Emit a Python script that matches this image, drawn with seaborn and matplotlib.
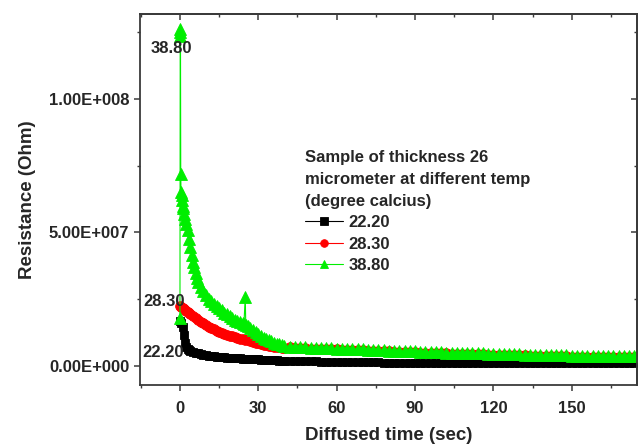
import numpy as np
import pandas as pd
import matplotlib
matplotlib.use('Agg')
import matplotlib.pyplot as plt
import seaborn as sns
from matplotlib.ticker import MultipleLocator, FuncFormatter

sns.set_style('ticks')
plt.rcParams['font.family'] = ['Liberation Sans', 'DejaVu Sans']
plt.rcParams['font.weight'] = 'bold'

# ---------------- data ----------------
series_labels = ['22.20', '28.30', '38.80']
series_colors = ['#000000', '#ff0000', '#00ee00']
series_markers = ['s', 'o', '^']

# shared tail times (sec)
time_tail = [42, 44, 46, 48, 50, 52, 54, 56, 58, 60,
             62, 64, 66, 68, 70, 72, 74, 76, 78, 80,
             82, 84, 86, 88, 90, 92, 94, 96, 98, 100,
             102, 104, 106, 108, 110, 112, 114, 116, 118, 120,
             122, 124, 126, 128, 130, 132, 134, 136, 138, 140,
             142, 144, 146, 148, 150, 152, 154, 156, 158, 160,
             162, 164, 166, 168, 170, 172, 174]

# head times for 22.20 and 28.30
time_head = [0, 0.5, 1, 1.5, 2, 2.5, 3, 3.5,
             4, 5, 6, 7, 8, 9, 10, 11, 12, 13, 14, 15, 16, 17, 18, 19, 20,
             21, 22, 23, 24, 25, 26, 27, 28, 29, 30, 31, 32, 33, 34, 35,
             36, 37, 38, 39, 40]

# resistance in units of 1e7 Ohm
r_2220_head = [1.70, 1.62, 1.45, 1.15, 0.88, 0.72, 0.64, 0.60,
               0.57, 0.53, 0.50, 0.48, 0.45, 0.43, 0.41, 0.39, 0.375, 0.36, 0.35, 0.34,
               0.33, 0.32, 0.31, 0.305, 0.30, 0.295, 0.29, 0.285, 0.28, 0.27,
               0.265, 0.26, 0.255, 0.25, 0.245, 0.24, 0.235, 0.23, 0.225, 0.22,
               0.215, 0.21, 0.205, 0.20, 0.198]
r_2220_tail = [0.195, 0.19, 0.185, 0.18, 0.175, 0.17, 0.165, 0.16, 0.155, 0.15,
               0.148, 0.146, 0.144, 0.142, 0.14, 0.138, 0.136, 0.134, 0.132, 0.13,
               0.128, 0.126, 0.125, 0.124, 0.123, 0.122, 0.121, 0.12, 0.12, 0.12,
               0.12, 0.119, 0.118, 0.117, 0.116, 0.115, 0.115, 0.114, 0.114, 0.113,
               0.113, 0.112, 0.112, 0.111, 0.111, 0.11, 0.11, 0.11, 0.11, 0.11,
               0.11, 0.108, 0.108, 0.106, 0.106, 0.105, 0.105, 0.104, 0.104, 0.103,
               0.103, 0.102, 0.102, 0.10, 0.10, 0.10, 0.10]

r_2830_head = [2.25, 2.22, 2.18, 2.14, 2.10, 2.06, 2.02, 1.98,
               1.95, 1.88, 1.80, 1.73, 1.66, 1.60, 1.54, 1.48, 1.42, 1.37, 1.33, 1.29,
               1.25, 1.21, 1.17, 1.14, 1.11, 1.08, 1.05, 1.03, 1.01, 0.99,
               0.97, 0.94, 0.91, 0.88, 0.85, 0.82, 0.80, 0.78, 0.76, 0.74,
               0.72, 0.71, 0.70, 0.69, 0.68]
r_2830_tail = [0.695, 0.685, 0.675, 0.665, 0.655, 0.645, 0.64, 0.635, 0.625, 0.62,
               0.615, 0.605, 0.60, 0.595, 0.585, 0.58, 0.575, 0.565, 0.555, 0.545,
               0.535, 0.53, 0.525, 0.515, 0.51, 0.505, 0.495, 0.49, 0.485, 0.475,
               0.47, 0.465, 0.46, 0.455, 0.45, 0.445, 0.44, 0.435, 0.43, 0.425,
               0.42, 0.415, 0.41, 0.405, 0.40, 0.395, 0.39, 0.385, 0.38, 0.375,
               0.37, 0.365, 0.365, 0.36, 0.355, 0.355, 0.35, 0.35, 0.345, 0.345,
               0.345, 0.34, 0.34, 0.335, 0.335, 0.335, 0.335]

time_3880_head = [0, 0.1, 0.15, 0.2, 0.3, 0.4, 0.6, 0.8, 1, 1.3, 1.6, 2, 2.5, 3,
                  3.5, 4, 4.5, 5, 5.5, 6, 6.5, 7, 8, 9, 10, 11, 12, 13, 14, 15,
                  16, 17, 18, 19, 20, 21, 22, 23, 24, 24.5, 25, 25.2, 26, 27, 28,
                  29, 30, 31, 32, 33, 34, 35, 36, 37, 38, 39, 40]
r_3880_head = [1.8, 12.6, 12.35, 12.5, 7.2, 6.5, 6.2, 6.4, 6.0, 5.9, 5.7, 5.5, 5.3, 5.1,
               4.75, 4.45, 4.15, 3.9, 3.7, 3.5, 3.3, 3.15, 2.95, 2.8, 2.65, 2.52, 2.42, 2.33, 2.24, 2.16,
               2.08, 2.0, 1.93, 1.86, 1.8, 1.74, 1.69, 1.65, 1.61, 1.58, 2.6, 1.55, 1.5, 1.44, 1.36,
               1.28, 1.2, 1.12, 1.06, 1.0, 0.96, 0.92, 0.88, 0.84, 0.81, 0.78, 0.75]
r_3880_tail = [0.73, 0.72, 0.71, 0.70, 0.69, 0.68, 0.675, 0.67, 0.66, 0.655,
               0.65, 0.64, 0.635, 0.63, 0.62, 0.615, 0.61, 0.60, 0.59, 0.58,
               0.57, 0.565, 0.56, 0.55, 0.545, 0.54, 0.53, 0.525, 0.52, 0.51,
               0.505, 0.50, 0.495, 0.49, 0.485, 0.48, 0.475, 0.47, 0.465, 0.46,
               0.455, 0.45, 0.445, 0.44, 0.435, 0.43, 0.425, 0.42, 0.415, 0.41,
               0.405, 0.40, 0.40, 0.395, 0.39, 0.39, 0.385, 0.385, 0.38, 0.38,
               0.38, 0.375, 0.375, 0.37, 0.37, 0.37, 0.37]

unit = 1e7
frames = []
for lab, t, r in [
    ('22.20', time_head + time_tail, r_2220_head + r_2220_tail),
    ('28.30', time_head + time_tail, r_2830_head + r_2830_tail),
    ('38.80', time_3880_head + time_tail, r_3880_head + r_3880_tail),
]:
    frames.append(pd.DataFrame({'time': t, 'resistance': np.array(r) * unit, 'series': lab}))
df = pd.concat(frames, ignore_index=True)

# ---------------- figure ----------------
fig = plt.figure(figsize=(6.42, 4.47), dpi=100)
ax = fig.add_axes([140 / 642, 62 / 447, 497 / 642, 371 / 447])

marker_sizes = {'s': 6.0, 'o': 7.0, '^': 8.0}
for lab, col, mk in zip(series_labels, series_colors, series_markers):
    sub = df[df['series'] == lab]
    sns.lineplot(data=sub, x='time', y='resistance', ax=ax, sort=False, estimator=None,
                 color=col, marker=mk, markersize=marker_sizes[mk], markeredgecolor=col,
                 markeredgewidth=0.6, linewidth=0.8, label=lab)

ax.set_xlim(-15.3, 175)
ax.set_ylim(-7.1e6, 1.318e8)

ax.xaxis.set_major_locator(MultipleLocator(30))
ax.xaxis.set_minor_locator(MultipleLocator(15))
ax.yaxis.set_major_locator(MultipleLocator(5e7))
ax.yaxis.set_minor_locator(MultipleLocator(2.5e7))


def sci_fmt(v, pos):
    if v == 0:
        return '0.00E+000'
    e = int(np.floor(np.log10(abs(v))))
    m = v / 10 ** e
    return f"{m:.2f}E{'+' if e >= 0 else '-'}{abs(e):03d}"


ax.yaxis.set_major_formatter(FuncFormatter(sci_fmt))

frame_col = '#3a3a3a'
for sp in ax.spines.values():
    sp.set_visible(True)
    sp.set_color(frame_col)
    sp.set_linewidth(1.3)

ax.tick_params(axis='both', which='major', direction='out', length=4.3, width=1.1,
               color=frame_col, labelsize=12, pad=3.5)
ax.tick_params(axis='both', which='minor', direction='out', length=2.4, width=1.0,
               color=frame_col)
ax.tick_params(axis='x', which='major', pad=7)
for lbl in ax.get_xticklabels() + ax.get_yticklabels():
    lbl.set_fontweight('bold')

# inward mirror ticks on top / right
secx = ax.secondary_xaxis('top')
secx.xaxis.set_major_locator(MultipleLocator(30))
secx.xaxis.set_minor_locator(MultipleLocator(15))
secx.tick_params(which='major', direction='in', length=4.3, width=1.1, color=frame_col, labeltop=False)
secx.tick_params(which='minor', direction='in', length=2.4, width=1.0, color=frame_col)
secx.spines['top'].set_color(frame_col)
secx.spines['top'].set_linewidth(1.3)
secy = ax.secondary_yaxis('right')
secy.yaxis.set_major_locator(MultipleLocator(5e7))
secy.yaxis.set_minor_locator(MultipleLocator(2.5e7))
secy.tick_params(which='major', direction='in', length=4.3, width=1.1, color=frame_col, labelright=False)
secy.tick_params(which='minor', direction='in', length=2.4, width=1.0, color=frame_col)
secy.spines['right'].set_color(frame_col)
secy.spines['right'].set_linewidth(1.3)

ax.set_xlabel('Diffused time (sec)', fontsize=13.5, fontweight='bold', labelpad=8)
ax.set_ylabel('Resistance (Ohm)', fontsize=13.5, fontweight='bold', labelpad=9)

# start-value annotations
ax.text(-3.1, 1.187e8, '38.80', fontsize=12, fontweight='bold', ha='center', va='center')
ax.text(-6.1, 2.43e7, '28.30', fontsize=12, fontweight='bold', ha='center', va='center')
ax.text(-6.5, 5.2e6, '22.20', fontsize=12, fontweight='bold', ha='center', va='center')

leg = ax.legend(title='Sample of thickness 26\nmicrometer at different temp\n(degree calcius)',
                loc='upper left', bbox_to_anchor=(305 / 642, 1 - 150 / 447),
                bbox_transform=fig.transFigure, frameon=False, fontsize=12,
                title_fontproperties={'weight': 'bold', 'size': 12}, alignment='left',
                handlelength=2.3, handletextpad=0.3, labelspacing=0.38, borderpad=0,
                borderaxespad=0, numpoints=1)
leg.get_title().set_linespacing(1.58)
for t in leg.get_texts():
    t.set_fontweight('bold')
for h in leg.legend_handles:
    h.set_markersize(5.5)
    h.set_linewidth(0.8)

fig.savefig('out.png', dpi=100)
